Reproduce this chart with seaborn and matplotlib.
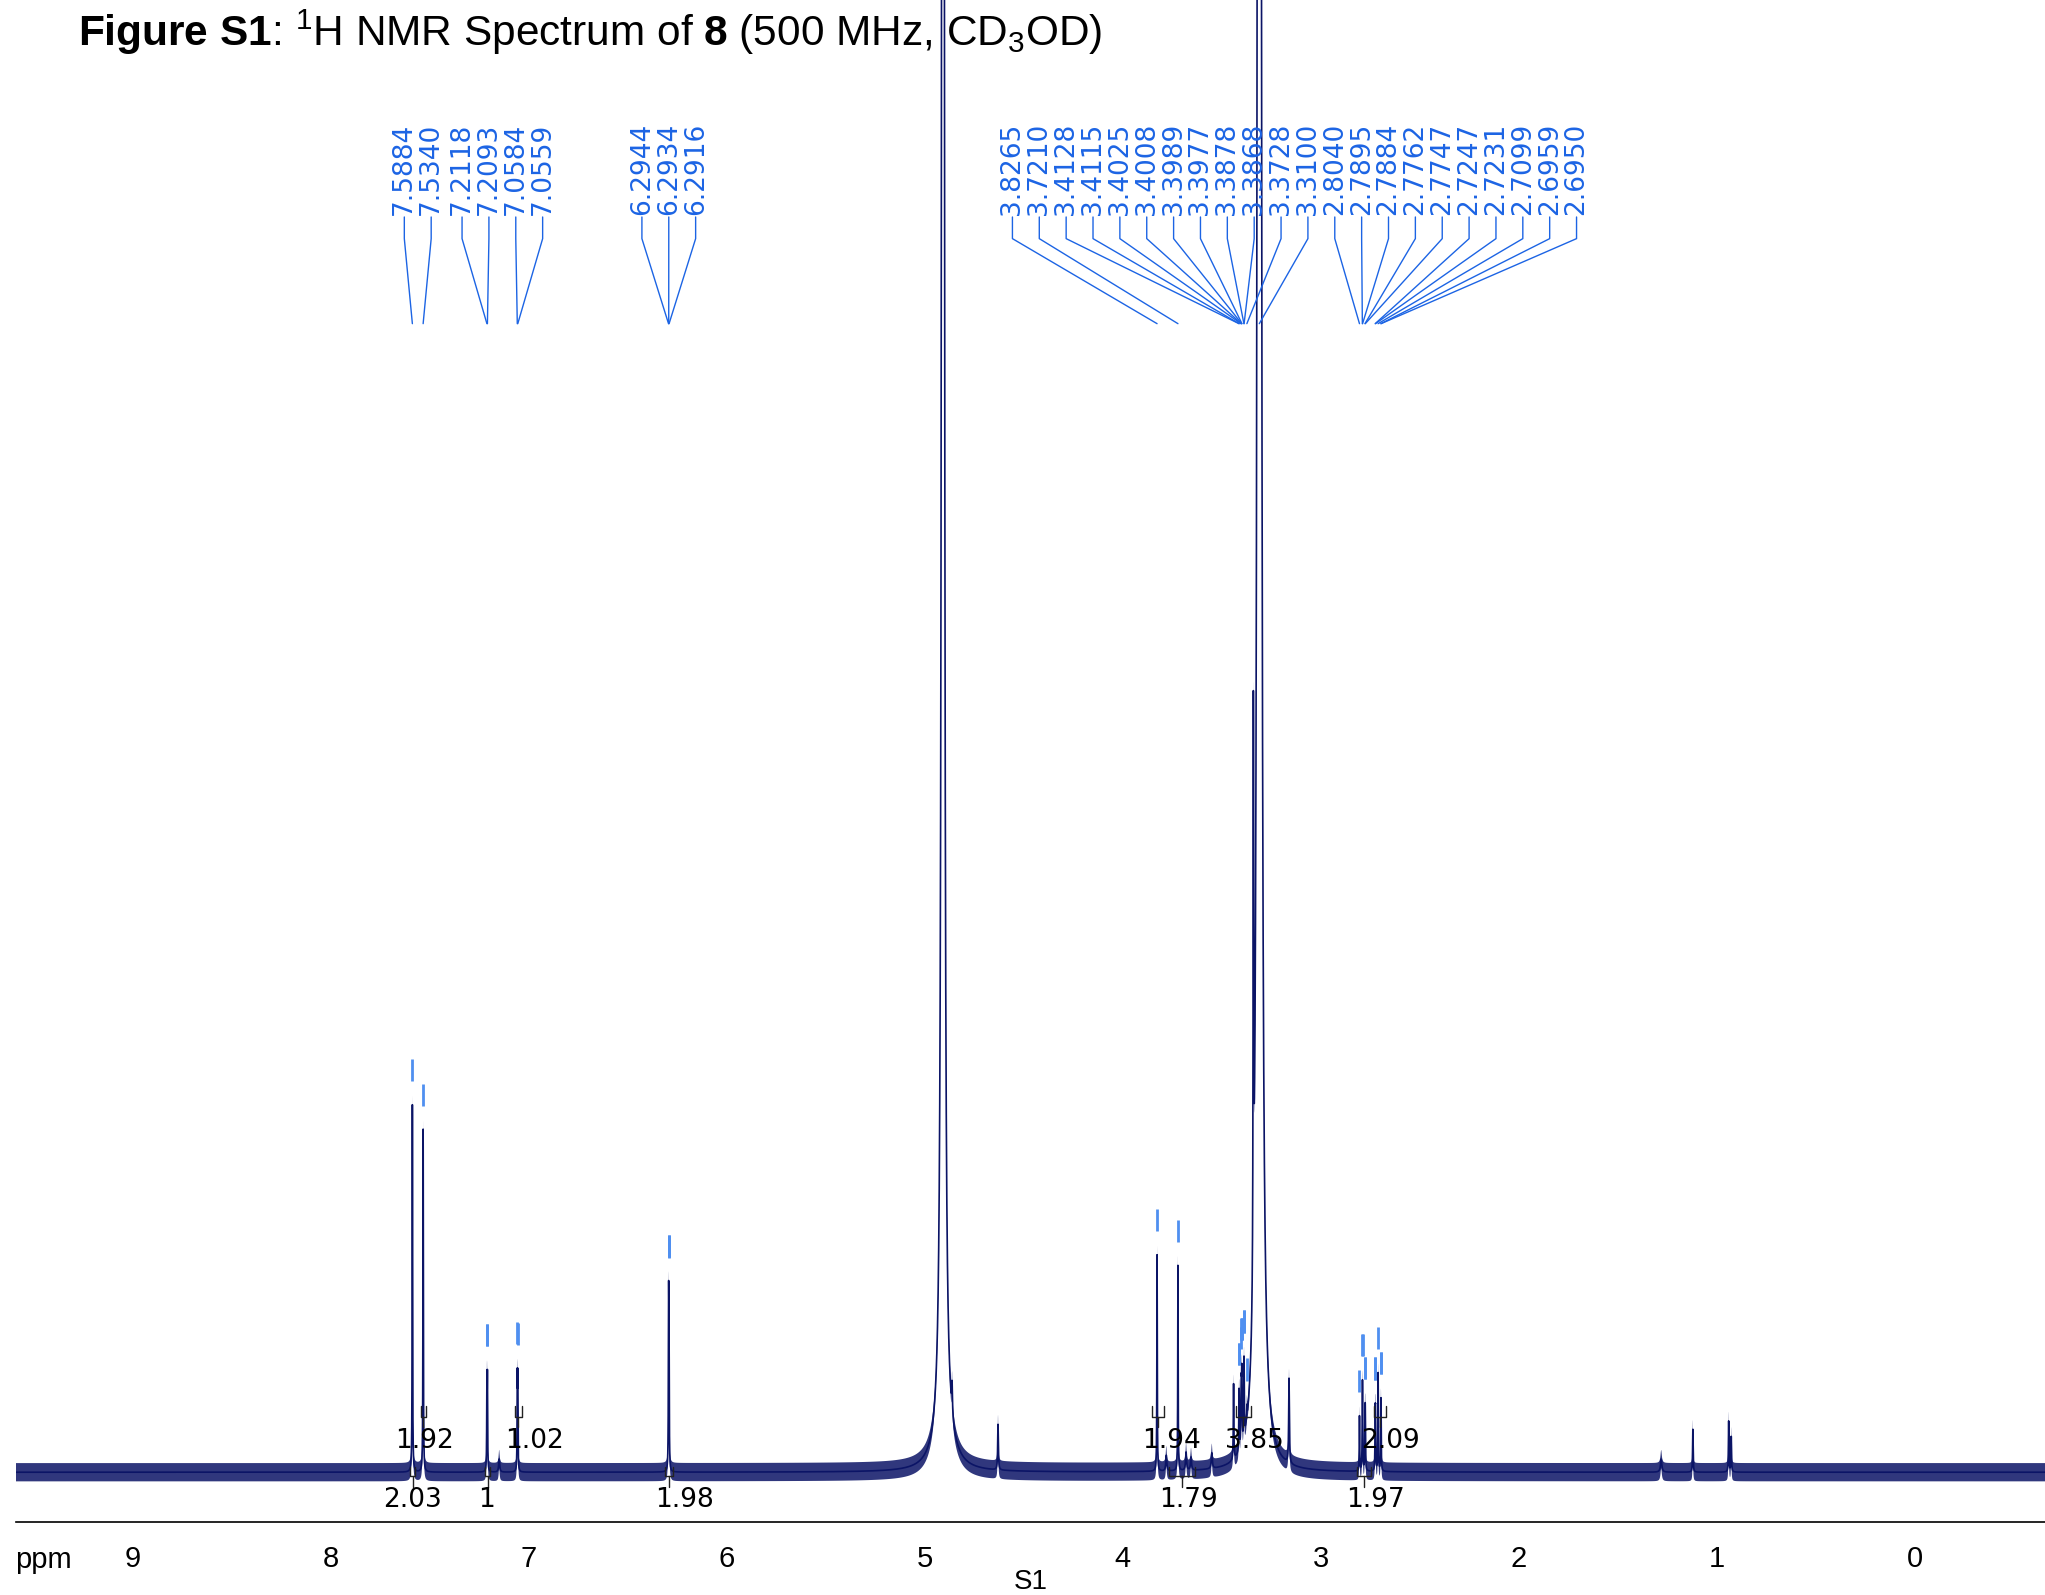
import numpy as np
import pandas as pd
import matplotlib
matplotlib.use('Agg')
import matplotlib.pyplot as plt
import seaborn as sns

# peak list (shift in ppm, height in a.u., half width in ppm)
peak_ppm = [7.5884, 7.5340, 7.2118, 7.2093, 7.15, 7.0584, 7.0559,
            6.2944, 6.2934, 6.2916,
            4.908, 4.905, 4.862, 4.63,
            3.8265, 3.78, 3.7210, 3.68, 3.655, 3.55,
            3.44, 3.4128, 3.4115, 3.4025, 3.4008, 3.3989, 3.3977, 3.3878, 3.3868, 3.3728,
            3.34, 3.3100, 3.16,
            2.8040, 2.7895, 2.7884, 2.7762, 2.7747, 2.7247, 2.7231, 2.7099, 2.6959, 2.6950,
            1.28, 1.12, 0.939, 0.926]
peak_height = [282, 263, 66, 66, 10, 67, 67,
               76, 76, 76,
               8000, 25, 22, 35,
               166, 12, 158, 14, 10, 12,
               58, 31, 30, 32, 31, 33, 32, 36, 35, 10,
               425, 10000, 65,
               42, 42, 42, 36, 36, 37, 37, 75, 32, 32,
               10, 33, 39, 27]
peak_hwhm = [0.0012, 0.0012, 0.0012, 0.0012, 0.003, 0.0012, 0.0012,
             0.0012, 0.0012, 0.0012,
             0.003, 0.05, 0.002, 0.002,
             0.0012, 0.003, 0.0012, 0.003, 0.003, 0.003,
             0.0015, 0.0012, 0.0012, 0.0012, 0.0012, 0.0012, 0.0012, 0.0012, 0.0012, 0.0012,
             0.0015, 0.004, 0.002,
             0.0012, 0.0012, 0.0012, 0.0012, 0.0012, 0.0012, 0.0012, 0.0012, 0.0012, 0.0012,
             0.004, 0.0015, 0.0015, 0.0015]

# picked peaks (blue labels)
picked = [7.5884, 7.5340, 7.2118, 7.2093, 7.0584, 7.0559,
          6.2944, 6.2934, 6.2916,
          3.8265, 3.7210, 3.4128, 3.4115, 3.4025, 3.4008, 3.3989, 3.3977,
          3.3878, 3.3868, 3.3728, 3.3100,
          2.8040, 2.7895, 2.7884, 2.7762, 2.7747, 2.7247, 2.7231, 2.7099,
          2.6959, 2.6950]

# integrals
int_from = [7.545, 7.07, 3.85, 3.43, 2.73, 7.60, 7.22, 6.31, 3.764, 2.815]
int_to = [7.52, 7.035, 3.79, 3.35, 2.67, 7.575, 7.195, 6.27, 3.634, 2.745]
int_value = ['1.92', '1.02', '1.94', '3.85', '2.09', '2.03', '1', '1.98', '1.79', '1.97']
int_side = ['above'] * 5 + ['below'] * 5
int_label_shift = [-0.003, -0.08, -0.065, -0.057, -0.052, 0.0015, 0.005, -0.078, -0.03, -0.059]

noise_level = 7

sns.set_style('white')
plt.rcParams['font.family'] = ['DejaVu Sans']
plt.rcParams['text.color'] = 'black'
plt.rcParams['mathtext.fontset'] = 'custom'
plt.rcParams['mathtext.rm'] = 'Liberation Sans'
plt.rcParams['mathtext.bf'] = 'Liberation Sans:bold'
plt.rcParams['mathtext.it'] = 'Liberation Sans:italic'

NAVY = '#0b1466'
BLUE = '#1c64e4'
TICKBLUE = '#4f8ff0'

x = np.linspace(9.593, -0.659, 60000)
y = np.zeros_like(x)
for p, h, w in zip(peak_ppm, peak_height, peak_hwhm):
    y += h * w**2 / ((x - p)**2 + w**2)
df = pd.DataFrame({'ppm': x, 'intensity': y})

fig = plt.figure(figsize=(20.45, 15.95), dpi=100)
ax = fig.add_axes([0.0076, 0.0459, 0.9924, 0.9541])

ax.fill_between(df['ppm'], df['intensity'] - noise_level, df['intensity'] + noise_level,
                color=NAVY, alpha=0.85, linewidth=0)
sns.lineplot(data=df, x='ppm', y='intensity', ax=ax, color=NAVY, linewidth=1.2,
             estimator=None, sort=False)

ax.set_xlim(9.593, -0.659)
ax.set_ylim(-38, 1129)

# peak labels: spread overlapping labels evenly around the mean of their peaks
spacing = 0.1357
clusters = [[p] for p in sorted(picked, reverse=True)]


def label_pos(c):
    mid = np.mean(c)
    n = len(c)
    return [mid + spacing * ((n - 1) / 2 - i) for i in range(n)]


merged = True
while merged:
    merged = False
    for i in range(len(clusters) - 1):
        a = label_pos(clusters[i])
        b = label_pos(clusters[i + 1])
        if a[-1] - b[0] < spacing:
            clusters[i] = clusters[i] + clusters[i + 1]
            del clusters[i + 1]
            merged = True
            break

for c in clusters:
    for p, lx in zip(c, label_pos(c)):
        ax.text(lx, 964, f'{p:.4f}', rotation=90, ha='center', va='bottom',
                color=BLUE, fontsize=19)
        ax.plot([lx, lx, p], [962.6, 946, 880.8], color=BLUE, linewidth=1)
        near = (x > p - 0.002) & (x < p + 0.002)
        yp = y[near].max()
        ax.vlines(p, yp + 18, yp + 35, color=TICKBLUE, linewidth=2)

# integrals
for x0, x1, val, side, sh in zip(int_from, int_to, int_value, int_side, int_label_shift):
    mid = (x0 + x1) / 2
    if side == 'above':
        ax.plot([x0, x0, x1, x1], [51, 42, 42, 51], color='#222222', linewidth=1)
        ax.plot([mid, mid], [42, 35], color='#222222', linewidth=1)
        ax.text(mid + sh, 24, val, ha='center', va='center', fontsize=19, color='black')
    else:
        ax.plot([x0, x0, x1, x1], [4, -3, -3, 4], color='#222222', linewidth=1)
        ax.plot([mid, mid], [-3, -11], color='#222222', linewidth=1)
        ax.text(mid + sh, -21, val, ha='center', va='center', fontsize=19, color='black')

for s in ['left', 'top', 'right']:
    ax.spines[s].set_visible(False)
ax.spines['bottom'].set_color('black')
ax.spines['bottom'].set_linewidth(1.2)
ax.set_yticks([])
ax.set_xticks(list(range(0, 10)))
ax.set_xticks([v + 0.5 for v in range(-1, 10)], minor=True)
ax.tick_params(axis='x', which='major', length=12, width=1, direction='out', pad=5,
               labelsize=21, colors='black')
ax.tick_params(axis='x', which='minor', length=6, width=1, direction='out')
for lab in ax.get_xticklabels():
    lab.set_family(['Liberation Sans Narrow', 'Liberation Sans'])
ax.set_xlabel('')
ax.set_ylabel('')

fig.text(0.0076, 0.0222, 'ppm', ha='left', va='center', fontsize=21,
         family=['Liberation Sans Narrow', 'Liberation Sans'])
fig.text(0.504, 0.0082, 'S1', ha='center', va='center', fontsize=20,
         family=['Liberation Sans Narrow', 'Liberation Sans'])

title = r'$\mathbf{Figure\ S1}$: $^{1}$H NMR Spectrum of $\mathbf{8}$ (500 MHz, CD$_{3}$OD)'
fig.text(0.038, 0.9796, title, ha='left', va='center', fontsize=30.5,
         family=['Liberation Sans'], color='black')

fig.savefig('out.png', dpi=100)
